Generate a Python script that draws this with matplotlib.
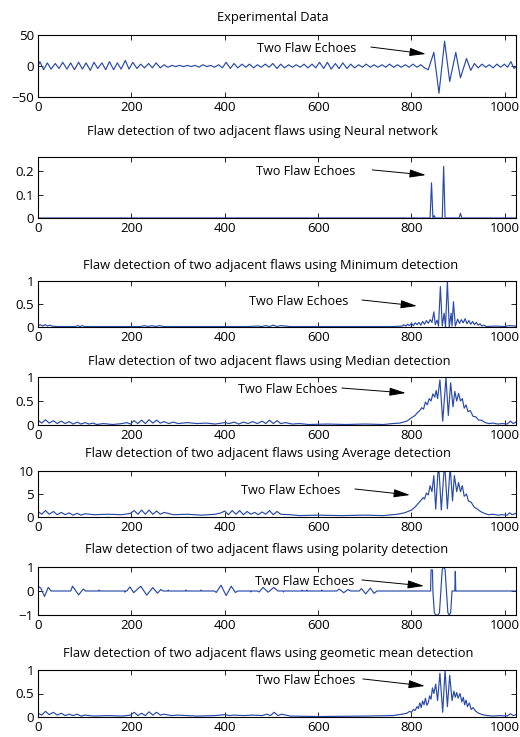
import matplotlib.pyplot as plt

plt.rcParams['font.family'] = ['Open Sans', 'DejaVu Sans']

expX = [0, 4, 12, 20, 28, 37, 45, 53, 62, 70, 78, 87, 95, 103, 112, 120, 128, 137, 145, 153,
        162, 170, 178, 187, 195, 203, 212, 220, 228, 237, 245, 253, 262, 270, 278, 287, 295, 303,
        312, 320, 328, 337, 345, 353, 362, 370, 378, 387, 395, 403, 412, 420, 428, 437, 445, 453,
        462, 470, 478, 487, 495, 503, 512, 520, 528, 537, 545, 553, 562, 570, 578, 587, 595, 603,
        612, 620, 628, 637, 645, 653, 662, 670, 678, 687, 695, 703, 712, 720, 728, 737, 745, 753,
        762, 770, 778, 787, 795, 803, 812, 820, 828, 836, 848, 859, 871, 882, 895, 905, 918, 927,
        935, 943, 951, 959, 967, 975, 983, 991, 999, 1006, 1013, 1020, 1024]
expY = [0, 7, -6, 5, -5, 4, -4, 6, -5, 5, -6, 6, -5, 5, -7, 6, -4, 5, -6, 7,
        -6, 5, -5, 9, -5, 6, -4, 3, -3, 4, -3, 5, -3, 2, -2, 1, -1, 1,
        -1, 1, -1, 1, -2, 2, -1, 1, -2, 2, -3, 6, -4, 4, -3, 3, -2, 3,
        -3, 2, -2, 3, -2, 4, -4, 3, -3, 2, -2, 2, -2, 3, -3, 3, -3, 6,
        -4, 6, -5, 4, -4, 5, -4, 3, -3, 2, -2, 3, -2, 2, -2, 2, -2, 3,
        -2, 2, -2, 2, -2, 3, -2, 2, -3, -6, 22, -44, 40, -25, 22, -19, 12, -7,
        4, -3, 3, -2, 2, -3, 3, -2, 3, -2, 7, -4, -1]

# Neural network output
nnX = [0, 840, 843, 846, 849, 851, 853, 866, 869, 872, 875, 902, 905, 908, 1024]
nnY = [0, 0, 0.15, 0, 0.01, 0, 0, 0, 0.22, 0, 0, 0, 0.02, 0, 0]

# Minimum detection
minX = [0, 5, 10, 15, 20, 25, 30, 40, 60, 80, 85, 90, 95, 100, 110, 200, 220, 228, 236, 244,
        252, 260, 270, 300, 400, 450, 470, 480, 488, 496, 504, 512, 520, 540, 700, 760, 780,
        784, 788, 792, 796, 800, 804, 808, 812, 816, 820, 824, 828, 832, 836, 840, 844, 848,
        851, 855, 858, 862, 866, 870, 873, 877, 881, 885, 887, 890, 894, 899, 903, 907, 911,
        915, 919, 923, 927, 931, 935, 939, 943, 947, 951, 955, 960, 980, 1000, 1010, 1024]
minY = [0.03, 0.05, 0.02, 0.05, 0.02, 0.04, 0.02, 0.01, 0.01, 0.01, 0.03, 0.01, 0.03, 0.01, 0.01,
        0.01, 0.01, 0.03, 0.01, 0.03, 0.01, 0.03, 0.01, 0.01, 0.01, 0.01, 0.02, 0.01, 0.03, 0.01,
        0.04, 0.01, 0.03, 0.01, 0.01, 0.01, 0.02, 0.05, 0.02, 0.06, 0.03, 0.08, 0.03, 0.09, 0.05,
        0.1, 0.04, 0.12, 0.06, 0.14, 0.08, 0.16, 0.1, 0.33, 0.05, 0.15, 0.02, 0.88, 0.02, 0.3,
        0.0, 0.99, 0.0, 0.3, 0.02, 0.55, 0.02, 0.17, 0.08, 0.16, 0.09, 0.18, 0.07, 0.14, 0.06,
        0.12, 0.05, 0.1, 0.04, 0.07, 0.02, 0.04, 0.01, 0.02, 0.01, 0.03, 0.02]

# Median detection
medX = [0, 8, 16, 24, 33, 41, 50, 58, 67, 75, 84, 92, 101, 109, 118, 126, 140, 160, 180, 190,
        198, 206, 214, 222, 230, 238, 246, 254, 262, 270, 280, 290, 300, 320, 340, 360, 380, 400,
        410, 420, 430, 440, 450, 460, 470, 480, 488, 496, 504, 512, 520, 530, 545, 560, 580, 620,
        660, 700, 740, 760, 775, 790, 800, 808, 812, 818, 822, 826, 830, 834, 838, 842, 846, 850,
        853, 856, 861, 867, 874, 879, 884, 889, 893, 897, 901, 905, 909, 913, 917, 921, 926, 932,
        938, 944, 950, 958, 966, 975, 985, 995, 1005, 1012, 1018, 1024]
medY = [0.1, 0.04, 0.11, 0.04, 0.09, 0.03, 0.08, 0.03, 0.07, 0.02, 0.06, 0.02, 0.05, 0.02, 0.04,
        0.01, 0.03, 0.01, 0.03, 0.05, 0.02, 0.09, 0.03, 0.1, 0.03, 0.11, 0.04, 0.1, 0.04, 0.07,
        0.03, 0.06, 0.03, 0.05, 0.03, 0.04, 0.02, 0.05, 0.03, 0.06, 0.02, 0.06, 0.03, 0.07, 0.03,
        0.08, 0.03, 0.1, 0.03, 0.09, 0.03, 0.05, 0.02, 0.03, 0.01, 0.02, 0.01, 0.02, 0.01, 0.03,
        0.04, 0.08, 0.15, 0.2, 0.25, 0.3, 0.36, 0.33, 0.48, 0.42, 0.55, 0.5, 0.65, 0.58, 0.72,
        0.55, 0.94, 0.08, 0.99, 0.2, 0.88, 0.38, 0.7, 0.5, 0.66, 0.5, 0.55, 0.35, 0.42, 0.28,
        0.3, 0.18, 0.17, 0.1, 0.1, 0.05, 0.03, 0.04, 0.02, 0.03, 0.02, 0.08, 0.03, 0.06]

# Average detection
avgX = [0, 8, 16, 24, 33, 41, 50, 58, 67, 75, 84, 92, 101, 120, 150, 180, 198, 206, 214, 222,
        230, 238, 246, 254, 262, 270, 290, 320, 350, 380, 392, 400, 408, 416, 424, 432, 440,
        448, 456, 464, 472, 480, 488, 496, 504, 512, 520, 540, 560, 600, 650, 700, 740, 770,
        785, 800, 808, 815, 820, 825, 828, 832, 836, 840, 844, 848, 852, 858, 864, 871, 877,
        883, 888, 892, 897, 901, 905, 909, 913, 918, 922, 928, 934, 940, 948, 956, 965, 975,
        985, 995, 1005, 1010, 1016, 1024]
avgY = [1.2, 0.6, 1.4, 0.6, 1.2, 0.5, 1.0, 0.5, 0.9, 0.4, 0.8, 0.4, 0.7, 0.5, 0.6, 0.5, 0.8,
        1.4, 0.6, 1.5, 0.6, 1.5, 0.6, 1.3, 0.6, 1.0, 0.5, 0.6, 0.4, 0.6, 0.9, 1.3, 0.5, 1.4,
        0.6, 1.4, 0.5, 1.2, 0.6, 1.0, 0.5, 1.1, 0.6, 1.4, 0.5, 1.2, 0.6, 0.5, 0.3, 0.4, 0.3,
        0.4, 0.3, 0.6, 0.9, 1.5, 2.2, 3.0, 3.6, 4.2, 3.9, 5.2, 4.8, 6.8, 5.5, 9.0, 1.7, 12,
        1.5, 12, 1.8, 11, 3.5, 9.0, 5.5, 7.5, 5.5, 6.8, 4.5, 5.0, 3.5, 3.2, 2.2, 1.8, 1.2,
        0.8, 0.5, 0.6, 0.4, 0.5, 0.4, 0.9, 0.5, 0.8]

# Polarity detection
polX = [0, 6, 14, 22, 28, 70, 74, 87, 97, 102, 130, 131, 132, 185, 186, 187, 190, 197, 205, 220,
        233, 246, 256, 263, 268, 278, 279, 280, 316, 317, 318, 348, 349, 350, 378, 382, 392, 403,
        414, 423, 428, 455, 456, 457, 470, 474, 482, 493, 505, 514, 525, 526, 527, 565, 566, 567,
        575, 576, 577, 607, 608, 609, 640, 645, 655, 664, 670, 688, 693, 702, 712, 720, 726,
        841, 842, 845, 846, 849, 852, 857, 860, 863, 866, 869, 872, 875, 878, 881, 884, 887,
        893, 894, 895, 1024]
polY = [0.2, 0.12, -0.23, 0.15, 0.0, 0.0, 0.2, -0.16, 0.08, 0.0, 0.0, 0.04, 0.0, 0.0, -0.05, 0.0,
        0.0, 0.17, -0.07, 0.2, -0.17, 0.14, -0.09, 0.06, 0.0, 0.0, 0.04, 0.0, 0.0, 0.04, 0.0,
        0.0, 0.04, 0.0, 0.0, -0.06, 0.24, -0.19, 0.2, -0.06, 0.0, 0.0, -0.04, 0.0, 0.0, -0.04,
        0.15, -0.05, 0.15, 0.0, 0.0, -0.04, 0.0, 0.0, 0.04, 0.0, 0.0, 0.04, 0.0, 0.0, 0.04,
        0.0, 0.0, 0.08, -0.07, 0.06, 0.0, 0.0, 0.1, -0.12, 0.12, -0.1, 0.0,
        0.0, 0.88, 0.88, 0.0, -0.9, -1.0, -1.0, -0.9, 0.0, 0.9, 1.0, 0.9, 0.0, -0.9, -1.0,
        -0.9, 0.0, 0.0, 0.82, 0.0, 0.0]

# Geometric mean detection
geoX = [0, 8, 16, 24, 33, 41, 50, 58, 67, 75, 84, 92, 101, 120, 150, 180, 198, 206, 214, 222,
        230, 238, 246, 254, 262, 270, 285, 300, 340, 380, 400, 410, 420, 440, 460, 480, 490,
        498, 506, 514, 522, 540, 600, 700, 760, 780, 790, 796, 800, 804, 808, 812, 815, 818,
        821, 824, 827, 830, 833, 836, 839, 842, 845, 848, 852, 856, 861, 867, 872, 877, 882,
        887, 891, 894, 897, 900, 904, 908, 911, 914, 917, 920, 924, 928, 932, 938, 944, 952,
        962, 975, 990, 1005, 1012, 1018, 1024]
geoY = [0.08, 0.04, 0.12, 0.05, 0.1, 0.04, 0.08, 0.03, 0.06, 0.03, 0.06, 0.02, 0.04, 0.02, 0.03,
        0.02, 0.04, 0.1, 0.03, 0.08, 0.03, 0.11, 0.04, 0.1, 0.04, 0.06, 0.03, 0.04, 0.02, 0.03,
        0.05, 0.03, 0.04, 0.03, 0.04, 0.03, 0.06, 0.03, 0.1, 0.03, 0.06, 0.02, 0.01, 0.02, 0.03,
        0.06, 0.08, 0.12, 0.1, 0.16, 0.14, 0.22, 0.18, 0.3, 0.2, 0.34, 0.26, 0.4, 0.25, 0.3,
        0.45, 0.38, 0.62, 0.5, 0.7, 0.35, 0.93, 0.1, 1.0, 0.22, 0.89, 0.35, 0.55, 0.42, 0.52,
        0.4, 0.5, 0.32, 0.42, 0.26, 0.36, 0.22, 0.3, 0.16, 0.2, 0.12, 0.08, 0.05, 0.03, 0.02,
        0.03, 0.02, 0.07, 0.03, 0.05]

titles = ['Experimental Data',
          'Flaw detection of two adjacent flaws using Neural network',
          'Flaw detection of two adjacent flaws using Minimum detection',
          'Flaw detection of two adjacent flaws using Median detection',
          'Flaw detection of two adjacent flaws using Average detection',
          'Flaw detection of two adjacent flaws using polarity detection',
          'Flaw detection of two adjacent flaws using geometic mean detection']
series = [(expX, expY), (nnX, nnY), (minX, minY), (medX, medY),
          (avgX, avgY), (polX, polY), (geoX, geoY)]
yLimits = [(-50, 50), (0, 0.26), (0, 1), (0, 1), (0, 10), (-1, 1), (0, 1)]
yTicks = [[-50, 0, 50], [0, 0.1, 0.2], [0, 0.5, 1], [0, 0.5, 1], [0, 5, 10], [-1, 0, 1], [0, 0.5, 1]]
yLabels = [['\u221250', '0', '50'], ['0', '0.1', '0.2'], ['0', '0.5', '1'], ['0', '0.5', '1'],
           ['0', '5', '10'], ['\u22121', '0', '1'], ['0', '0.5', '1']]
xTicks = [0, 200, 400, 600, 800, 1000]

# Layout in pixels (top, bottom of each axes, title centre)
W, H = 520, 737
axTop = [35, 157, 281, 377, 471, 567, 670]
axBottom = [97, 218, 327, 425, 517, 615, 717]
titleY = [17, 132, 265, 361, 454, 550, 653]
titleX = [273, 262, 271, 269, 268, 267, 268]
# Annotation: text left/centre, arrow tail, arrow head (data coords)
textPos = [(469, 29), (467, 0.197), (452, 0.565), (428, 0.75), (435, 5.72), (465, 0.39), (467, 0.77)]
arrowTail = [(713, 30.6), (716, 0.205), (694, 0.587), (651, 0.77), (679, 6.09), (694, 0.46), (696, 0.81)]
arrowHead = [(831, 19.4), (831, 0.183), (812, 0.457), (788, 0.667), (797, 4.78), (827, 0.21), (829, 0.66)]

fig = plt.figure(figsize=(5.2, 7.37), dpi=100)
lineColor = '#2a4aa8'

for i in range(7):
    ax = fig.add_axes([38 / W, 1 - axBottom[i] / H, 478 / W, (axBottom[i] - axTop[i]) / H])
    ax.plot(series[i][0], series[i][1], color=lineColor, linewidth=0.85)
    ax.set_xlim(0, 1024)
    ax.set_ylim(yLimits[i])
    ax.set_xticks(xTicks)
    ax.set_xticklabels([str(t) for t in xTicks])
    ax.set_yticks(yTicks[i])
    ax.set_yticklabels(yLabels[i])
    ax.tick_params(direction='in', length=3.5, width=0.6, top=True, right=True,
                   labelsize=9.5, pad=3)
    for s in ax.spines.values():
        s.set_linewidth(0.8)
    fig.text(titleX[i] / W, 1 - titleY[i] / H, titles[i], ha='center', va='center', fontsize=9.3)
    ax.text(textPos[i][0], textPos[i][1], 'Two Flaw Echoes', ha='left', va='center', fontsize=9.1)
    ax.annotate('', xy=arrowHead[i], xytext=arrowTail[i],
                arrowprops=dict(arrowstyle='-|>,head_length=1.0,head_width=0.25',
                                color='black', lw=0.7, shrinkA=0, shrinkB=0))

plt.savefig('out.png', dpi=100)
